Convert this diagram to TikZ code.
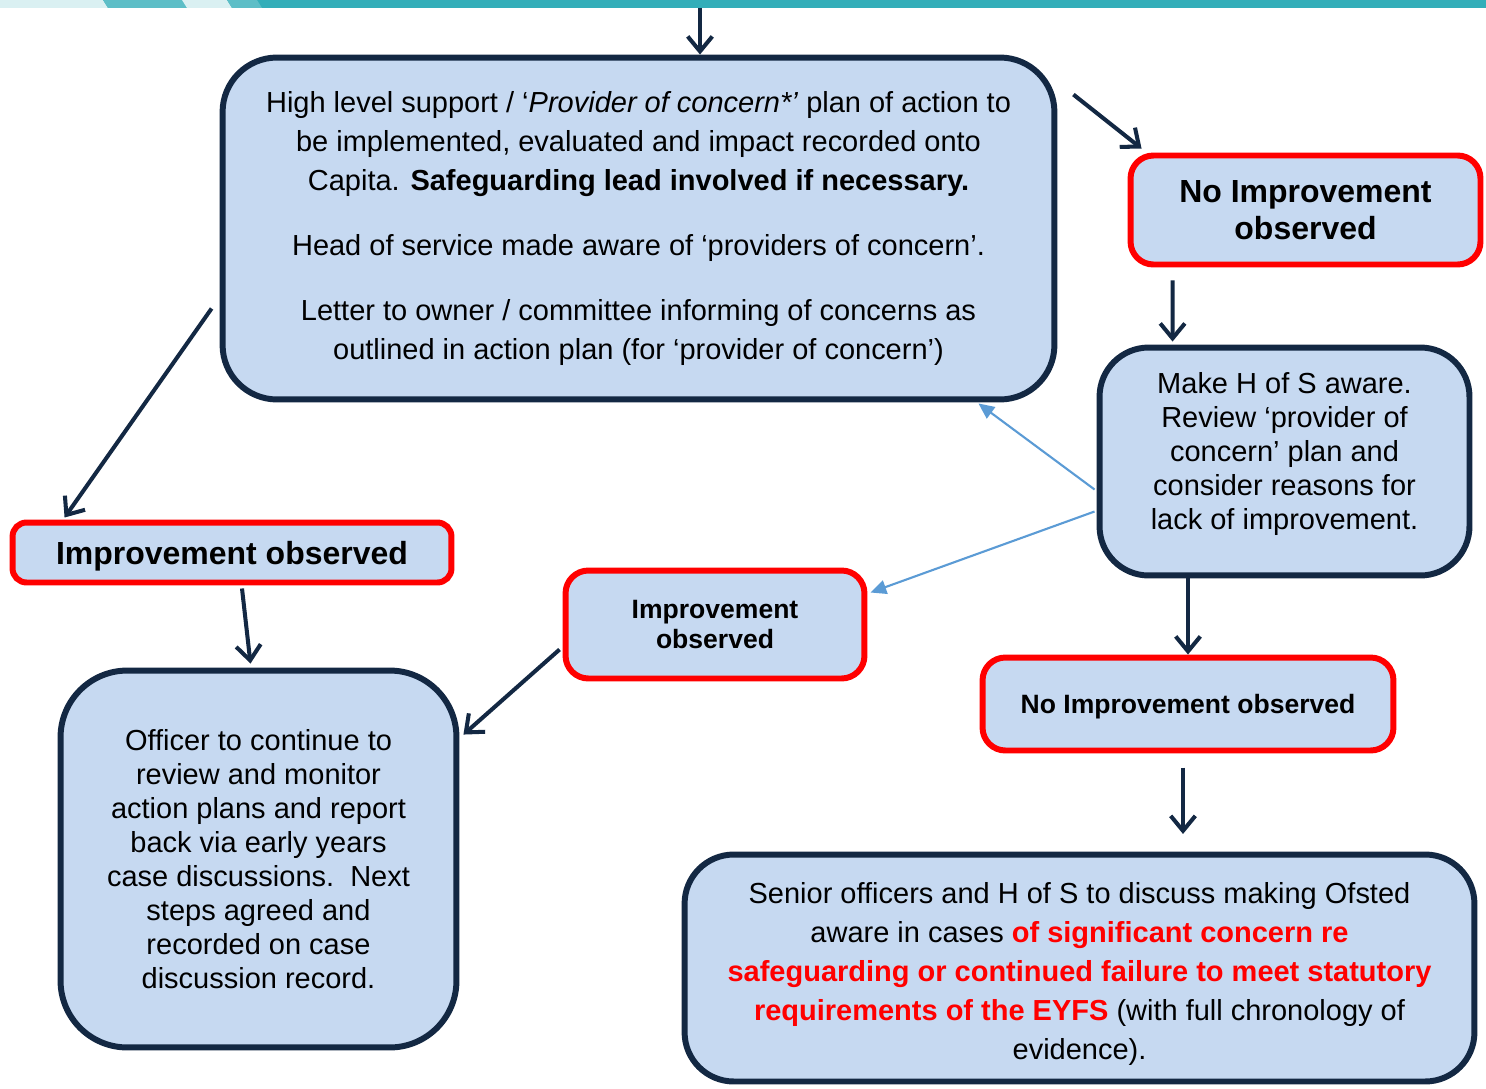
\documentclass[tikz,border=0pt]{standalone}
\usepackage{fontspec}
\setmainfont{Liberation Sans}
\usetikzlibrary{arrows.meta,calc}
\definecolor{navy}{HTML}{132843}
\definecolor{boxfill}{HTML}{C6D9F1}
\definecolor{arrowblue}{HTML}{5B9BD5}
\definecolor{tealdark}{HTML}{33AEB9}
\definecolor{tealmid}{HTML}{5DBEC7}
\definecolor{teallight}{HTML}{DAF0F2}

\begin{document}
\begin{tikzpicture}[x=0.02cm, y=-0.02cm,
  navybox/.style={draw=navy, fill=boxfill, line width=3.4pt, rounded corners=28pt, align=center, inner sep=0pt},
  redbox/.style={draw=red, fill=boxfill, line width=3.4pt, rounded corners=13pt, align=center, inner sep=0pt},
  plaintext/.style={font=\fontsize{16.5}{22.2}\selectfont},
  tighttext/.style={font=\fontsize{16.5}{19.3}\selectfont},
  arr/.style={navy, line width=2.3pt, -{Straight Barb[length=8.5pt, width=14pt]}},
  bluearr/.style={arrowblue, line width=1.2pt, -{Triangle[length=9pt, width=8pt]}}]
\useasboundingbox (0,0) rectangle (1486,1088);

\fill[tealdark] (0,0) rectangle (1486,8);
\fill[teallight] (0,0) -- (103,0) -- (108,8) -- (0,8) -- cycle;
\fill[tealmid] (103,0) -- (182,0) -- (187,8) -- (108,8) -- cycle;
\fill[teallight] (182,0) -- (227,0) -- (232,8) -- (187,8) -- cycle;
\fill[tealmid] (227,0) -- (257,0) -- (262,8) -- (232,8) -- cycle;

\node[navybox, plaintext, rounded corners=31pt, minimum width=16.64cm, minimum height=6.84cm] (top) at (638.5,228.5)
  {High level support / ‘\textit{Provider of concern*’} plan of action to\\
   be implemented, evaluated and impact recorded onto\\
   Capita. \textbf{Safeguarding lead involved if necessary.}\\[15pt]
   Head of service made aware of ‘providers of concern’.\\[15pt]
   Letter to owner / committee informing of concerns as\\
   outlined in action plan (for ‘provider of concern’)};
\node[redbox, font=\bfseries\fontsize{18.2}{21}\selectfont, minimum width=7.0cm, minimum height=2.18cm] (noimpA) at (1305.5,210)
  {No Improvement\\observed};
\node[navybox, tighttext, minimum width=7.4cm, minimum height=4.56cm] (review) at (1284.5,461.5)
  {Make H of S aware.\\Review ‘provider of\\concern’ plan and\\consider reasons for\\lack of improvement.\rule[-12pt]{0pt}{0pt}};
\node[redbox, font=\bfseries\fontsize{18.2}{21}\selectfont, rounded corners=8pt, text depth=0pt, minimum width=8.78cm, minimum height=1.2cm] (impL) at (232,552.5)
  {Improvement observed};
\node[redbox, font=\bfseries\fontsize{15.1}{17.6}\selectfont, minimum width=5.98cm, minimum height=2.16cm] (impM) at (715,624.5)
  {Improvement\\observed};
\node[redbox, font=\bfseries\fontsize{15.1}{17.6}\selectfont, text depth=0pt, minimum width=8.22cm, minimum height=1.86cm] (noimpB) at (1188,704)
  {No Improvement observed};
\node[navybox, tighttext, rounded corners=38pt, minimum width=7.92cm, minimum height=7.54cm] (officer) at (258.5,859)
  {Officer to continue to\\review and monitor\\action plans and report\\back via early years\\case discussions.\ \ Next\\steps agreed and\\recorded on case\\discussion record.};
\node[navybox, plaintext, minimum width=15.8cm, minimum height=4.54cm] (senior) at (1079.5,968)
  {\rule{0pt}{19pt}Senior officers and H of S to discuss making Ofsted\\
   aware in cases \textcolor{red}{\textbf{of significant concern re}}\\
   \textcolor{red}{\textbf{safeguarding or continued failure to meet statutory}}\\
   \textcolor{red}{\textbf{requirements of the EYFS}} (with full chronology of\\
   evidence).};

\coordinate (entry) at (700,8);
\draw[arr] (entry) -- (entry |- top.north);
\draw[arr] ($(top.north east)+(16,40)$) -- ($(noimpA.north west)+(14,-4)$);
\draw[arr] ($(noimpA.south west)+(45,13)$) -- ($(review.north west)+(76,-3)$);
\draw[arr] ($(top.west)+(-8,80)$) -- ($(impL.north west)+(55,-2)$);
\draw[arr] ($(impL.south)+(10,3)$) -- ($(officer.north)+(-8,-4)$);
\draw[arr] ($(impM.west)+(-3,25)$) -- ($(officer.north east)+(4,67)$);
\draw[arr] (noimpB.north |- review.south) -- (noimpB.north);
\coordinate (nb) at ($(noimpB.south)+(-5,0)$);
\draw[arr, shorten <=8pt, shorten >=10pt] (nb) -- (nb |- senior.north);

\draw[bluearr] ($(review.west)+(-2,28)$) -- ($(top.south east)+(-79,1)$);
\draw[bluearr] ($(review.west)+(-2,50)$) -- ($(impM.east)+(3,-32)$);
\end{tikzpicture}
\end{document}
